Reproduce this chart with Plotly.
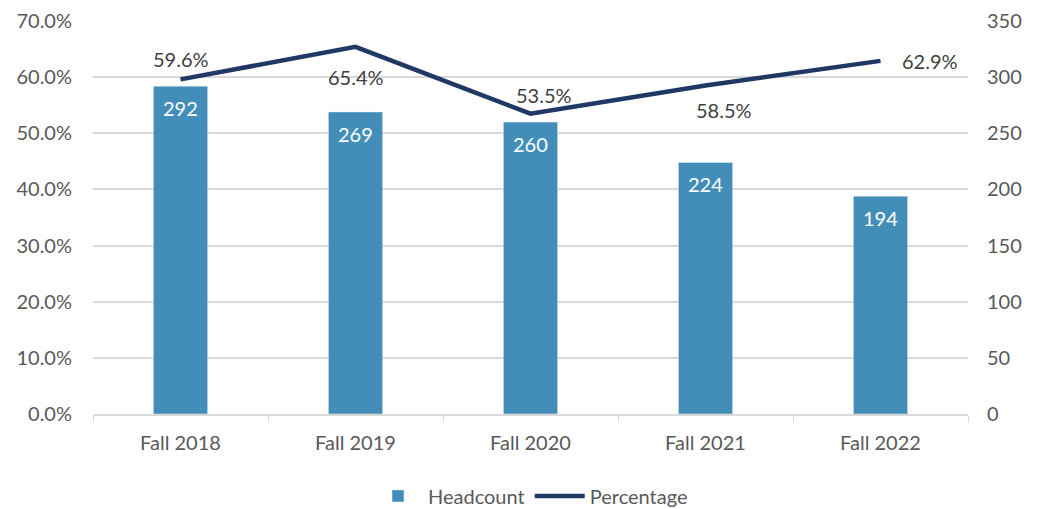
import plotly.graph_objects as go

categories = ["Fall 2018", "Fall 2019", "Fall 2020", "Fall 2021", "Fall 2022"]
headcount = [292, 269, 260, 224, 194]
percentage = [0.596, 0.654, 0.535, 0.585, 0.629]

# label offsets (pixels) for the percentage labels
label_xshift = [0, 0, 13, 18, 49]
label_yshift = [20, -30, 19, -24, 0]

FONT = "Lato"
GREY = "#595959"
DARK = "#404040"
GRID = "#d9d9d9"
FS = 20

fig = go.Figure()
fig.add_trace(go.Bar(
    x=categories, y=headcount, name="Headcount", yaxis="y2",
    marker=dict(color="#438EB9"), width=0.31,
))
fig.add_trace(go.Scatter(
    x=categories, y=percentage, name="Percentage", mode="lines",
    line=dict(color="#1F3864", width=4.5),
))

# headcount labels inside the top of each bar
for c, v in zip(categories, headcount):
    fig.add_annotation(
        x=c, y=v, xref="x", yref="y2", text=str(v),
        showarrow=False, yanchor="middle", yshift=-22,
        font=dict(color="white", size=FS, family=FONT),
    )

# percentage labels near each point of the line
for c, v, dx, dy in zip(categories, percentage, label_xshift, label_yshift):
    fig.add_annotation(
        x=c, y=v, xref="x", yref="y", text=f"{v*100:.1f}%",
        showarrow=False, xshift=dx, yshift=dy,
        font=dict(color=DARK, size=FS, family=FONT),
    )

# page body has an 8px margin, so the figure is sized 8px smaller
fig.update_layout(
    width=1033, height=501,
    margin=dict(l=85, r=73, t=13, b=95),
    paper_bgcolor="white", plot_bgcolor="white",
    font=dict(family=FONT, size=FS, color=GREY),
    xaxis=dict(
        type="category", tickson="boundaries", ticks="outside", ticklen=6,
        tickcolor=GRID, showline=True, linecolor=GRID, linewidth=1.5,
        showgrid=False, tickfont=dict(size=FS, color=GREY),
        ticklabelstandoff=10, automargin=False,
    ),
    yaxis=dict(
        range=[0, 0.7], dtick=0.1, tickformat=".1%", showgrid=True,
        gridcolor=GRID, gridwidth=1.5, zeroline=False,
        tickfont=dict(size=FS, color=GREY), ticklabelstandoff=20,
        automargin=False,
    ),
    yaxis2=dict(
        range=[0, 350], dtick=50, overlaying="y", side="right",
        showgrid=False, zeroline=False,
        tickfont=dict(size=FS, color=GREY), ticklabelstandoff=18,
        automargin=False,
    ),
    legend=dict(
        orientation="h", x=0.5, xanchor="center",
        yref="container", y=0.026, yanchor="middle",
        font=dict(size=FS, color=GREY), traceorder="normal", itemwidth=50,
    ),
    showlegend=True,
)

fig.write_html("out.html")
